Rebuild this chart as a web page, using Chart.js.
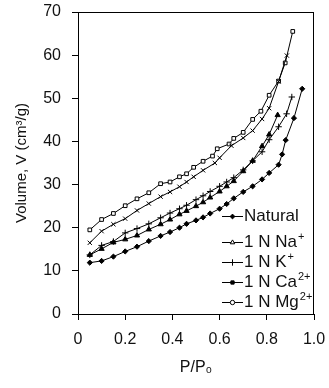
<!DOCTYPE html>
<html>
<head>
<meta charset="utf-8">
<script src="https://cdn.jsdelivr.net/npm/chart.js@4.4.1/dist/chart.umd.min.js"></script>
<style>
  body { margin: 0; background: #fff; }
  canvas { display: block; }
</style>
</head>
<body>
<canvas id="isothermChart" width="329" height="388"></canvas>
<script>
// relative pressure P/P0 and adsorbed volume V (cm3/g)
const naturalP = [0.05, 0.10, 0.15, 0.20, 0.25, 0.30, 0.35, 0.39, 0.43, 0.46, 0.50, 0.53, 0.56, 0.60, 0.63, 0.66, 0.70, 0.74, 0.78, 0.81, 0.85, 0.865, 0.88, 0.915, 0.95];
const naturalV = [11.9, 12.3, 13.3, 14.5, 15.6, 16.9, 18.1, 19.0, 20.0, 20.9, 21.7, 22.4, 23.3, 24.4, 25.5, 26.8, 28.3, 29.6, 31.2, 32.7, 34.6, 37.0, 40.3, 45.4, 52.2];

const naP = [0.05, 0.10, 0.15, 0.20, 0.25, 0.30, 0.35, 0.39, 0.43, 0.46, 0.50, 0.53, 0.56, 0.60, 0.63, 0.66, 0.70, 0.74, 0.78, 0.81, 0.846];
const naV = [13.7, 15.1, 16.6, 17.3, 18.2, 19.6, 20.8, 21.9, 23.1, 23.9, 25.0, 25.9, 27.0, 28.4, 29.6, 30.8, 33.1, 35.5, 38.9, 41.6, 46.1];

const kP = [0.05, 0.10, 0.15, 0.20, 0.25, 0.30, 0.35, 0.39, 0.43, 0.46, 0.50, 0.53, 0.56, 0.60, 0.63, 0.66, 0.70, 0.74, 0.78, 0.81, 0.85, 0.884, 0.906];
const kV = [13.7, 15.9, 16.8, 18.8, 19.8, 20.9, 22.3, 23.4, 24.4, 25.2, 26.5, 27.4, 28.4, 29.6, 30.6, 31.6, 33.4, 35.5, 37.6, 40.4, 43.4, 46.4, 50.3];

const caP = [0.05, 0.10, 0.15, 0.20, 0.25, 0.30, 0.35, 0.39, 0.43, 0.46, 0.49, 0.53, 0.58, 0.60, 0.65, 0.70, 0.74, 0.78, 0.81, 0.85, 0.885];
const caV = [16.5, 19.2, 20.8, 22.1, 24.0, 25.6, 27.2, 28.3, 29.5, 30.6, 31.8, 33.3, 35.0, 36.2, 39.0, 40.8, 42.5, 45.2, 47.7, 53.9, 59.9];

const mgP = [0.05, 0.10, 0.15, 0.20, 0.25, 0.30, 0.35, 0.39, 0.43, 0.46, 0.49, 0.53, 0.57, 0.59, 0.64, 0.66, 0.70, 0.74, 0.775, 0.81, 0.85, 0.878, 0.91];
const mgV = [19.5, 21.9, 23.3, 25.1, 26.7, 28.1, 30.2, 30.6, 31.8, 32.5, 34.0, 35.4, 36.6, 38.3, 39.4, 40.7, 42.1, 45.1, 47.0, 50.7, 54.0, 58.2, 65.5];

const seriesNames = ['Natural', '1 N Na⁺', '1 N K⁺', '1 N Ca²⁺', '1 N Mg²⁺'];
const legendBase = ['Natural', '1 N Na', '1 N K', '1 N Ca', '1 N Mg'];
const legendSup = ['', '+', '+', '2+', '2+'];

const xTicks = [0, 0.2, 0.4, 0.6, 0.8, 1.0];
const xTickLabels = ['0', '0.2', '0.4', '0.6', '0.8', '1.0'];
const yTicks = [0, 10, 20, 30, 40, 50, 60, 70];
const yTickLabels = ['0', '10', '20', '30', '40', '50', '60', '70'];

const fontFamily = '"Liberation Sans", Arial, sans-serif';
const ink = '#111';

const allP = [naturalP, naP, kP, caP, mgP];
const allV = [naturalV, naV, kV, caV, mgV];

// markers as drawn on the curves
const curveMarks = [
  { pointStyle: 'rectRot', radius: 2.6, fill: '#000' },
  { pointStyle: 'triangle', radius: 3, fill: '#000' },
  { pointStyle: 'cross', radius: 3.2, fill: '#000' },
  { pointStyle: 'crossRot', radius: 3, fill: '#000' },
  { pointStyle: 'rect', radius: 2.6, fill: '#fff' }
];
// markers as drawn in the key
const keyMarks = [
  { pointStyle: 'rectRot', radius: 2.4, fill: '#000' },
  { pointStyle: 'triangle', radius: 2.6, fill: '#fff' },
  { pointStyle: 'cross', radius: 3.2, fill: '#000' },
  { pointStyle: 'rect', radius: 2.3, fill: '#000' },
  { pointStyle: 'circle', radius: 2.2, fill: '#fff' }
];

const datasets = seriesNames.map((name, i) => ({
  label: name,
  data: allP[i].map((p, j) => ({ x: p, y: allV[i][j] })),
  showLine: true,
  borderColor: '#000',
  borderWidth: 1,
  tension: 0,
  pointStyle: curveMarks[i].pointStyle,
  pointRadius: curveMarks[i].radius,
  pointBackgroundColor: curveMarks[i].fill,
  pointBorderColor: '#000',
  pointBorderWidth: 1
}));

// closes the plot frame on top and right
const frame = {
  id: 'frame',
  afterDatasetsDraw(chart) {
    const { ctx, chartArea: a } = chart;
    ctx.save();
    ctx.strokeStyle = '#000';
    ctx.lineWidth = 1;
    ctx.strokeRect(a.left + 0.5, a.top + 0.5, a.right - a.left - 1, a.bottom - a.top);
    ctx.restore();
  }
};

// key sitting inside the plot, lower right
const key = {
  id: 'key',
  afterDraw(chart) {
    const ctx = chart.ctx;
    const rows = [216, 242, 262, 282, 302];
    const lineX0 = 222, lineX1 = 243, textX = 244;
    ctx.save();
    rows.forEach((y, i) => {
      ctx.strokeStyle = '#000';
      ctx.lineWidth = 1;
      ctx.beginPath();
      ctx.moveTo(lineX0, y + 0.5);
      ctx.lineTo(lineX1, y + 0.5);
      ctx.stroke();
      const m = keyMarks[i];
      ctx.fillStyle = m.fill;
      Chart.helpers.drawPoint(ctx, { pointStyle: m.pointStyle, radius: m.radius, borderWidth: 1, rotation: 0 }, (lineX0 + lineX1) / 2, y + 0.5);
      ctx.fillStyle = ink;
      ctx.textBaseline = 'middle';
      ctx.textAlign = 'left';
      ctx.font = '17px ' + fontFamily;
      ctx.fillText(legendBase[i], textX, y);
      if (legendSup[i]) {
        const w = ctx.measureText(legendBase[i]).width;
        ctx.font = '11px ' + fontFamily;
        ctx.fillText(legendSup[i], textX + w + 1, y - 5);
      }
    });
    ctx.restore();
  }
};

const tickFont = { family: fontFamily, size: 16 };

new Chart(document.getElementById('isothermChart').getContext('2d'), {
  type: 'scatter',
  data: { datasets: datasets },
  options: {
    responsive: false,
    animation: false,
    layout: { padding: { top: 12, right: 15, left: 0, bottom: 0 } },
    plugins: {
      legend: { display: false },
      tooltip: { enabled: false }
    },
    scales: {
      x: {
        type: 'linear',
        min: 0,
        max: 1,
        afterBuildTicks: s => { s.ticks = xTicks.map(v => ({ value: v })); },
        afterFit: s => { s.height = 74; s.paddingLeft = 0; s.paddingRight = 0; },
        ticks: {
          callback: (v, i) => xTickLabels[i],
          font: tickFont,
          color: ink,
          padding: 10,
          maxRotation: 0
        },
        grid: { drawOnChartArea: false, drawTicks: true, tickLength: 6, color: '#000' },
        border: { color: '#000', width: 1 },
        title: {
          display: true,
          text: 'P/P₀',
          font: { family: fontFamily, size: 16 },
          color: ink,
          padding: { top: 0, bottom: 11 }
        }
      },
      y: {
        type: 'linear',
        min: 0,
        max: 70,
        afterBuildTicks: s => { s.ticks = yTicks.map(v => ({ value: v })); },
        afterFit: s => { s.width = 78; s.paddingTop = 0; s.paddingBottom = 0; },
        ticks: {
          callback: (v, i) => yTickLabels[i],
          font: tickFont,
          color: ink,
          padding: 11
        },
        grid: { drawOnChartArea: false, drawTicks: true, tickLength: 6, color: '#000' },
        border: { color: '#000', width: 1 },
        title: {
          display: true,
          text: 'Volume, V (cm³/g)',
          font: { family: fontFamily, size: 15 },
          color: ink,
          padding: { top: 13, bottom: 0 }
        }
      }
    }
  },
  plugins: [frame, key]
});
</script>
</body>
</html>
